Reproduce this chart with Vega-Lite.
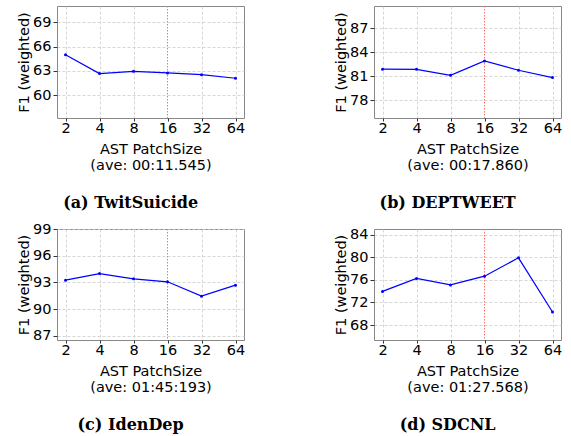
{
  "$schema": "https://vega.github.io/schema/vega-lite/v6.json",
  "padding": {"left": 16, "top": 5, "right": 5, "bottom": 0},
  "background": "white",
  "config": {
    "view": {"stroke": "#888888", "strokeWidth": 1},
    "font": "DejaVu Sans",
    "axis": {
      "labelFont": "DejaVu Sans", "labelFontSize": 14.5, "labelColor": "#000000",
      "titleFont": "DejaVu Sans", "titleFontSize": 14.5, "titleFontWeight": "normal", "titleColor": "#000000",
      "domain": false, "tickColor": "#333333", "tickSize": 4, "labelPadding": 2,
      "grid": true, "gridColor": "#cccccc", "gridDash": [3, 2], "gridWidth": 0.8
    },
    "axisX": {"labelPadding": 0, "tickSize": 3, "titleLineHeight": 16.6, "gridColor": {"condition": {"test": "datum.value === 16", "value": "transparent"}, "value": "#cccccc"}},
    "title": {"font": "DejaVu Serif", "fontSize": 16, "fontWeight": "bold", "color": "#000000", "orient": "bottom", "anchor": "middle", "frame": "bounds", "offset": 23}
  },
  "data": {"values": [
    {"ds": "a", "patch": 2, "f1": 65.0}, {"ds": "a", "patch": 4, "f1": 62.67}, {"ds": "a", "patch": 8, "f1": 62.95}, {"ds": "a", "patch": 16, "f1": 62.75}, {"ds": "a", "patch": 32, "f1": 62.54}, {"ds": "a", "patch": 64, "f1": 62.1},
    {"ds": "b", "patch": 2, "f1": 81.88}, {"ds": "b", "patch": 4, "f1": 81.86}, {"ds": "b", "patch": 8, "f1": 81.12}, {"ds": "b", "patch": 16, "f1": 82.9}, {"ds": "b", "patch": 32, "f1": 81.75}, {"ds": "b", "patch": 64, "f1": 80.83},
    {"ds": "c", "patch": 2, "f1": 93.26}, {"ds": "c", "patch": 4, "f1": 94.0}, {"ds": "c", "patch": 8, "f1": 93.41}, {"ds": "c", "patch": 16, "f1": 93.08}, {"ds": "c", "patch": 32, "f1": 91.47}, {"ds": "c", "patch": 64, "f1": 92.7},
    {"ds": "d", "patch": 2, "f1": 73.95}, {"ds": "d", "patch": 4, "f1": 76.25}, {"ds": "d", "patch": 8, "f1": 75.1}, {"ds": "d", "patch": 16, "f1": 76.65}, {"ds": "d", "patch": 32, "f1": 79.9}, {"ds": "d", "patch": 64, "f1": 70.3}
  ]},
  "vconcat": [
    {"hconcat": [
      {
        "width": 187, "height": 112,
        "title": "(a) TwitSuicide",
        "transform": [{"filter": "datum.ds === 'a'"}],
        "encoding": {
          "x": {"field": "patch", "type": "ordinal", "scale": {"type": "point", "padding": 0.25}, "axis": {"labelAngle": 0, "title": ["AST PatchSize", "(ave: 00:11.545)"], "titlePadding": 7.5}},
          "y": {"field": "f1", "type": "quantitative", "scale": {"domain": [57.2, 71], "nice": false, "zero": false}, "axis": {"values": [60, 63, 66, 69], "title": "F1 (weighted)", "titlePadding": 1}}
        },
        "layer": [
          {"mark": {"type": "rule", "color": "#ff7070", "strokeDash": [1.5, 1.5], "strokeWidth": 1}, "transform": [{"filter": "datum.patch === 16"}], "encoding": {"y": {"value": 0}, "y2": {"value": 112}}},
          {"mark": {"type": "line", "color": "#0000ff", "strokeWidth": 1.2, "point": {"filled": true, "color": "#0000ff", "size": 9}}}
        ]
      },
      {
        "width": 187, "height": 112,
        "title": "(b) DEPTWEET",
        "transform": [{"filter": "datum.ds === 'b'"}],
        "encoding": {
          "x": {"field": "patch", "type": "ordinal", "scale": {"type": "point", "padding": 0.25}, "axis": {"labelAngle": 0, "title": ["AST PatchSize", "(ave: 00:17.860)"], "titlePadding": 7.5}},
          "y": {"field": "f1", "type": "quantitative", "scale": {"domain": [75.8, 89.75], "nice": false, "zero": false}, "axis": {"values": [78, 81, 84, 87], "title": "F1 (weighted)", "titlePadding": 1}}
        },
        "layer": [
          {"mark": {"type": "rule", "color": "#ff7070", "strokeDash": [1.5, 1.5], "strokeWidth": 1}, "transform": [{"filter": "datum.patch === 16"}], "encoding": {"y": {"value": 0}, "y2": {"value": 112}}},
          {"mark": {"type": "line", "color": "#0000ff", "strokeWidth": 1.2, "point": {"filled": true, "color": "#0000ff", "size": 9}}}
        ]
      }
    ], "spacing": 87},
    {"hconcat": [
      {
        "width": 187, "height": 111,
        "title": "(c) IdenDep",
        "transform": [{"filter": "datum.ds === 'c'"}],
        "encoding": {
          "x": {"field": "patch", "type": "ordinal", "scale": {"type": "point", "padding": 0.25}, "axis": {"labelAngle": 0, "title": ["AST PatchSize", "(ave: 01:45:193)"], "titlePadding": 7.5}},
          "y": {"field": "f1", "type": "quantitative", "scale": {"domain": [86.55, 99], "nice": false, "zero": false}, "axis": {"values": [87, 90, 93, 96, 99], "title": "F1 (weighted)", "titlePadding": 1}}
        },
        "layer": [
          {"mark": {"type": "rule", "color": "#ff7070", "strokeDash": [1.5, 1.5], "strokeWidth": 1}, "transform": [{"filter": "datum.patch === 16"}], "encoding": {"y": {"value": 0}, "y2": {"value": 111}}},
          {"mark": {"type": "line", "color": "#0000ff", "strokeWidth": 1.2, "point": {"filled": true, "color": "#0000ff", "size": 9}}}
        ]
      },
      {
        "width": 187, "height": 111,
        "title": "(d) SDCNL",
        "transform": [{"filter": "datum.ds === 'd'"}],
        "encoding": {
          "x": {"field": "patch", "type": "ordinal", "scale": {"type": "point", "padding": 0.25}, "axis": {"labelAngle": 0, "title": ["AST PatchSize", "(ave: 01:27.568)"], "titlePadding": 7.5}},
          "y": {"field": "f1", "type": "quantitative", "scale": {"domain": [65.35, 85.0], "nice": false, "zero": false}, "axis": {"values": [68, 72, 76, 80, 84], "title": "F1 (weighted)", "titlePadding": 1}}
        },
        "layer": [
          {"mark": {"type": "rule", "color": "#ff7070", "strokeDash": [1.5, 1.5], "strokeWidth": 1}, "transform": [{"filter": "datum.patch === 16"}], "encoding": {"y": {"value": 0}, "y2": {"value": 111}}},
          {"mark": {"type": "line", "color": "#0000ff", "strokeWidth": 1.2, "point": {"filled": true, "color": "#0000ff", "size": 9}}}
        ]
      }
    ], "spacing": 87}
  ],
  "spacing": 8
}
